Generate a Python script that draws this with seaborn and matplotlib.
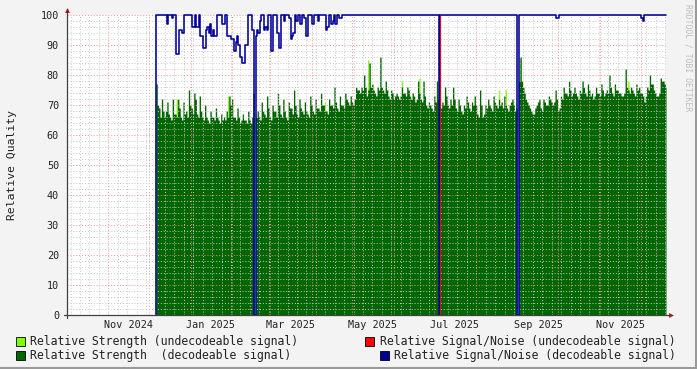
import numpy as np
import pandas as pd
import matplotlib
matplotlib.use("Agg")
import matplotlib.pyplot as plt
import matplotlib.dates as mdates
from matplotlib.ticker import MultipleLocator, NullFormatter
from matplotlib.patches import Rectangle
from matplotlib.lines import Line2D
from matplotlib.transforms import blended_transform_factory
import seaborn as sns

# ---------------- data (daily samples) ----------------
start = "2024-12-06 09:00"
step = "1D"

strength_dec = [
    77, 70, 69, 66, 72, 68, 66, 68, 71, 67,
    66, 65, 72, 67, 67, 66, 72, 69, 66, 65,
    71, 67, 68, 66, 75, 70, 69, 67, 74, 72,
    67, 66, 73, 68, 66, 65, 70, 66, 65, 64,
    68, 66, 66, 65, 69, 66, 65, 64, 67, 65,
    66, 65, 68, 66, 73, 70, 72, 66, 66, 65,
    69, 66, 64, 65, 67, 65, 65, 64, 68, 65,
    64, 66, 74, 0, 66, 68, 66, 65, 71, 68,
    67, 66, 73, 69, 66, 65, 70, 68, 68, 66,
    74, 70, 67, 66, 72, 68, 66, 65, 71, 69,
    69, 67, 75, 70, 67, 66, 72, 69, 68, 67,
    71, 68, 67, 66, 73, 70, 68, 67, 72, 69,
    69, 68, 74, 70, 70, 68, 68, 67, 72, 70,
    70, 69, 76, 71, 69, 68, 73, 70, 70, 69,
    74, 72, 71, 70, 73, 71, 70, 72, 76, 75,
    75, 74, 76, 75, 80, 76, 73, 75, 84, 76,
    77, 75, 74, 73, 76, 75, 86, 76, 75, 74,
    78, 75, 73, 72, 75, 74, 72, 73, 74, 73,
    72, 73, 76, 74, 74, 73, 76, 75, 73, 72,
    74, 73, 71, 72, 78, 74, 72, 71, 78, 73,
    70, 69, 71, 70, 69, 68, 73, 71, 78, 72,
    0, 69, 71, 70, 76, 73, 70, 69, 72, 70,
    76, 72, 69, 68, 72, 70, 68, 67, 70, 69,
    73, 71, 69, 68, 71, 70, 73, 70, 67, 66,
    75, 70, 66, 67, 70, 69, 72, 70, 69, 68,
    73, 71, 70, 69, 72, 70, 71, 69, 73, 70,
    69, 68, 70, 71, 72, 70, 68, 69, 0, 78,
    86, 78, 76, 74, 72, 71, 70, 69, 68, 67,
    67, 69, 70, 71, 72, 69, 68, 72, 71, 70,
    70, 73, 72, 71, 70, 71, 75, 72, 68, 69,
    73, 72, 76, 74, 74, 73, 78, 75, 73, 74,
    76, 74, 73, 72, 75, 74, 78, 76, 74, 73,
    77, 75, 73, 74, 72, 73, 76, 74, 74, 73,
    77, 75, 73, 74, 75, 74, 80, 76, 74, 73,
    77, 75, 75, 74, 74, 73, 73, 74, 82, 76,
    75, 74, 76, 75, 74, 73, 77, 75, 76, 74,
    74, 73, 71, 73, 76, 75, 80, 77, 77, 75,
    74, 73, 73, 74, 79, 78, 78, 77, 76,
]

snr_dec = [
    100, 100, 100, 100, 100, 100, 100, 100, 97, 100,
    100, 100, 99, 100, 100, 87, 87, 95, 95, 94,
    94, 100, 100, 100, 100, 100, 100, 96, 96, 100,
    96, 96, 100, 93, 93, 89, 89, 95, 96, 94,
    97, 93, 95, 93, 93, 100, 100, 100, 100, 97,
    97, 100, 100, 93, 93, 93, 92, 92, 88, 91,
    93, 90, 86, 86, 84, 84, 90, 90, 100, 100,
    100, 95, 95, 0, 93, 95, 94, 98, 100, 100,
    95, 96, 95, 100, 100, 88, 88, 100, 100, 100,
    94, 89, 89, 100, 100, 98, 100, 100, 100, 99,
    92, 93, 94, 100, 98, 100, 100, 97, 100, 100,
    99, 93, 93, 100, 100, 100, 97, 100, 100, 100,
    98, 100, 100, 100, 100, 100, 95, 96, 100, 100,
    97, 98, 100, 97, 100, 100, 99, 99, 100, 100,
    100, 100, 100, 100, 100, 100, 100, 100, 100, 100,
    100, 100, 100, 100, 100, 100, 100, 100, 100, 100,
    100, 100, 100, 100, 100, 100, 100, 100, 100, 100,
    100, 100, 100, 100, 100, 100, 100, 100, 100, 100,
    100, 100, 100, 100, 100, 100, 100, 100, 100, 100,
    100, 100, 100, 100, 100, 100, 100, 100, 100, 100,
    100, 100, 100, 100, 100, 100, 100, 100, 100, 100,
    0, 100, 100, 100, 100, 100, 100, 100, 100, 100,
    100, 100, 100, 100, 100, 100, 100, 100, 100, 100,
    100, 100, 100, 100, 100, 100, 100, 100, 100, 100,
    100, 100, 100, 100, 100, 100, 100, 100, 100, 100,
    100, 100, 100, 100, 100, 100, 100, 100, 100, 100,
    100, 100, 100, 100, 100, 100, 100, 100, 0, 100,
    100, 100, 100, 100, 100, 100, 100, 100, 100, 100,
    100, 100, 100, 100, 100, 100, 100, 100, 100, 100,
    100, 100, 100, 100, 100, 100, 100, 99, 99, 100,
    100, 100, 100, 100, 100, 100, 100, 100, 100, 100,
    100, 100, 100, 100, 100, 100, 100, 100, 100, 100,
    100, 100, 100, 100, 100, 100, 100, 100, 100, 100,
    100, 100, 100, 100, 100, 100, 100, 100, 100, 100,
    100, 100, 100, 100, 100, 100, 100, 100, 100, 100,
    100, 100, 100, 100, 100, 100, 100, 100, 100, 100,
    99, 98, 100, 100, 100, 100, 100, 100, 100, 100,
    100, 100, 100, 100, 100, 100, 100, 100, 100,
]

undec_strength_dates = [
    "2024-12-21 09:00", "2025-01-28 09:00", "2025-04-10 09:00",
    "2025-05-12 09:00", "2025-06-06 09:00", "2025-06-19 09:00",
    "2025-08-17 09:00", "2025-08-22 09:00", "2025-09-02 09:00",
    "2025-11-21 09:00",
]
undec_strength_values = [72, 73, 71, 85, 78, 79, 75, 75, 85, 78]

undec_snr_dates = ["2025-07-04 21:00"]
undec_snr_values = [100]

month_label_dates = ["2024-11-16", "2025-01-16", "2025-03-16", "2025-05-16",
                     "2025-07-16", "2025-09-16", "2025-11-16"]
month_labels = ["Nov 2024", "Jan 2025", "Mar 2025", "May 2025",
                "Jul 2025", "Sep 2025", "Nov 2025"]

legend_labels = [
    "Relative Strength (undecodeable signal)",
    "Relative Strength  (decodeable signal)",
    "Relative Signal/Noise (undecodeable signal)",
    "Relative Signal/Noise (decodeable signal)",
]

C_LIGHT = "#7FFF00"
C_DARK = "#006600"
C_RED = "#FF0000"
C_BLUE = "#000099"

# ---------------- build ----------------
dates = pd.date_range(start, periods=len(strength_dec), freq=step)
df = pd.DataFrame({"date": dates, "strength": strength_dec, "snr": snr_dec})
undec = (pd.Series(undec_strength_values, index=pd.to_datetime(undec_strength_dates))
         .reindex(dates, fill_value=0))

xmin = pd.Timestamp("2024-10-01 08:40")
xmax = pd.Timestamp("2025-12-19 18:30")
end = min(dates[-1] + pd.Timedelta(step), xmax)
x_ext = list(dates) + [end]

sns.set_theme(style="white")
plt.rcParams["font.family"] = ["DejaVu Sans Mono", "DejaVu Sans"]

W, H = 697, 369
fig = plt.figure(figsize=(W / 100, H / 100), dpi=100, facecolor="#F3F3F3")
ax = fig.add_axes([67 / W, 54 / H, 599 / W, 300 / H])
ax.set_facecolor("white")

# areas
ax.fill_between(x_ext, list(undec.values) + [undec.values[-1]], step="post",
                color=C_LIGHT, lw=0, zorder=1)
ax.fill_between(x_ext, list(df["strength"]) + [df["strength"].iloc[-1]], step="post",
                color=C_DARK, lw=0, zorder=1.1)

# SNR line (decodeable)
line_x = [dates[0]] + x_ext
line_y = [0] + list(df["snr"]) + [df["snr"].iloc[-1]]
sns.lineplot(x=line_x, y=line_y, estimator=None, sort=False, drawstyle="steps-post",
             color=C_BLUE, lw=1.15, ax=ax, zorder=3, clip_on=False)

# SNR (undecodeable)
ax.vlines(pd.to_datetime(undec_snr_dates), 0, undec_snr_values, color=C_RED, lw=0.8, zorder=3.5)

ax.set_xlim(xmin, xmax)
ax.set_ylim(0, 100)

# grid
ax.xaxis.set_major_locator(mdates.MonthLocator())
ax.xaxis.set_minor_locator(mdates.WeekdayLocator(byweekday=mdates.FR))
ax.xaxis.set_major_formatter(NullFormatter())
ax.yaxis.set_major_locator(MultipleLocator(10))
ax.yaxis.set_minor_locator(MultipleLocator(2))
ax.grid(which="major", color="#F29090", ls=(0, (1, 2)), lw=0.7)
ax.grid(which="minor", color="#C8C8C8", ls=(0, (1, 2)), lw=0.7)
ax.set_axisbelow(False)
for s in ax.spines.values():
    s.set_visible(False)
ax.tick_params(which="major", length=2.2, width=0.7, color="#E08080", direction="out",
               labelsize=7.3, pad=3.5, labelcolor="#222222")
ax.tick_params(which="minor", length=0)
ax.set_yticks(range(0, 101, 10))
ax.set_xlabel("")
ax.set_ylabel("")

# axis lines with arrows
ax.add_line(Line2D([0, 0], [-0.01, 1.02], transform=ax.transAxes, color="#404040",
                   lw=0.9, clip_on=False, zorder=4))
ax.add_line(Line2D([-0.005, 1.005], [0, 0], transform=ax.transAxes, color="#404040",
                   lw=0.9, clip_on=False, zorder=4))
ax.plot([0], [1.017], marker="^", ms=3.5, color="#A01818", transform=ax.transAxes,
        clip_on=False, zorder=5, mew=0)
ax.plot([1.009], [0], marker=">", ms=3.5, color="#A01818", transform=ax.transAxes,
        clip_on=False, zorder=5, mew=0)

# month labels
tr = blended_transform_factory(ax.transData, fig.transFigure)
for d, lab in zip(pd.to_datetime(month_label_dates), month_labels):
    ax.text(d, 1 - 324.5 / H, lab, transform=tr, ha="center", va="center",
            fontsize=7.3, color="#222222")

# y label
fig.text(12 / W, 1 - 165 / H, "Relative Quality", rotation=90, ha="center", va="center",
         fontsize=8.2, color="#222222")

# watermark
fig.text(688 / W, 1 - 4 / H, "RRDTOOL / TOBI OETIKER", rotation=270, ha="center", va="top",
         fontsize=5.8, color="#BDBDBD")

# legend
entries = [
    (16, 341, 30, legend_labels[0], C_LIGHT),
    (16, 355, 30, legend_labels[1], C_DARK),
    (365, 341, 380, legend_labels[2], C_RED),
    (380, 355, 394, legend_labels[3], C_BLUE),
]
for sx, cy, tx, lab, col in entries:
    fig.patches.append(Rectangle((sx / W, 1 - (cy + 4.5) / H), 9 / W, 9 / H,
                                 transform=fig.transFigure, facecolor=col,
                                 edgecolor="#000000", lw=0.6))
    fig.text(tx / W, 1 - cy / H, lab, ha="left", va="center", fontsize=8.3, color="#222222")

# frame (3D edge)
fig.add_artist(Line2D([1 - 1 / W, 1 - 1 / W], [0, 1], transform=fig.transFigure,
                      color="#9A9A9A", lw=1.5))
fig.add_artist(Line2D([0, 1], [1 / H, 1 / H], transform=fig.transFigure,
                      color="#9A9A9A", lw=1.5))

fig.savefig("out.png", dpi=100, facecolor=fig.get_facecolor())
